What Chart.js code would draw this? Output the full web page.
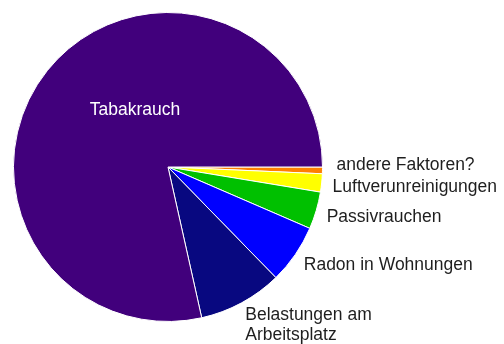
<!DOCTYPE html>
<html lang="de">
<head>
  <meta charset="UTF-8">
  <title>Ursachen Lungenkrebs</title>
  <script src="https://cdn.jsdelivr.net/npm/chart.js"></script>
  <style>
    body { margin: 0; background: #ffffff; }
    canvas { display: block; }
  </style>
</head>
<body>
  <canvas id="pieChart" width="504" height="344"></canvas>

  <script>
    // Anteile in Prozent, im Uhrzeigersinn ab 3 Uhr
    const labels = [
      'andere Faktoren?',
      'Luftverunreinigungen',
      'Passivrauchen',
      'Radon in Wohnungen',
      ['Belastungen am', 'Arbeitsplatz'],
      'Tabakrauch'
    ];
    const values = [0.7, 1.9, 3.9, 6.2, 8.8, 78.5];
    const colors = ['#ff8000', '#ffff00', '#00c000', '#0000ff', '#080880', '#41007c'];

    // Draws the slice labels next to the arcs (Tabakrauch inside, in white)
    const sliceLabels = {
      id: 'sliceLabels',
      afterDatasetsDraw(chart) {
        const ctx = chart.ctx;
        const arcs = chart.getDatasetMeta(0).data;
        ctx.save();
        ctx.font = '17.5px "Liberation Sans", Arial, sans-serif';
        ctx.textBaseline = 'middle';
        arcs.forEach((arc, i) => {
          const lines = Array.isArray(labels[i]) ? labels[i] : [labels[i]];
          const mid = (arc.startAngle + arc.endAngle) / 2;
          if (i === arcs.length - 1) {
            // big slice: label inside
            ctx.fillStyle = '#ffffff';
            ctx.textAlign = 'center';
            ctx.fillText(lines[0], arc.x - 33, arc.y - 57);
            return;
          }
          const r = arc.outerRadius + 14;
          let x = arc.x + r * Math.cos(mid);
          let y = arc.y + r * Math.sin(mid) + 3;
          if (i === 0) { y -= 9; x += 3; }
          if (lines.length > 1) y -= 3;
          ctx.fillStyle = '#1e1e1e';
          ctx.textAlign = 'left';
          lines.forEach((line, k) => ctx.fillText(line, x - 3, y + k * 20));
        });
        ctx.restore();
      }
    };

    new Chart(document.getElementById('pieChart').getContext('2d'), {
      type: 'pie',
      data: {
        labels: labels,
        datasets: [{
          data: values,
          backgroundColor: colors,
          borderColor: '#ffffff',
          borderWidth: 1
        }]
      },
      options: {
        responsive: false,
        animation: false,
        rotation: 90,
        layout: { padding: { left: 13, top: 12, right: 181, bottom: 22 } },
        plugins: {
          legend: { display: false },
          tooltip: { enabled: false }
        }
      },
      plugins: [sliceLabels]
    });
  </script>
</body>
</html>
